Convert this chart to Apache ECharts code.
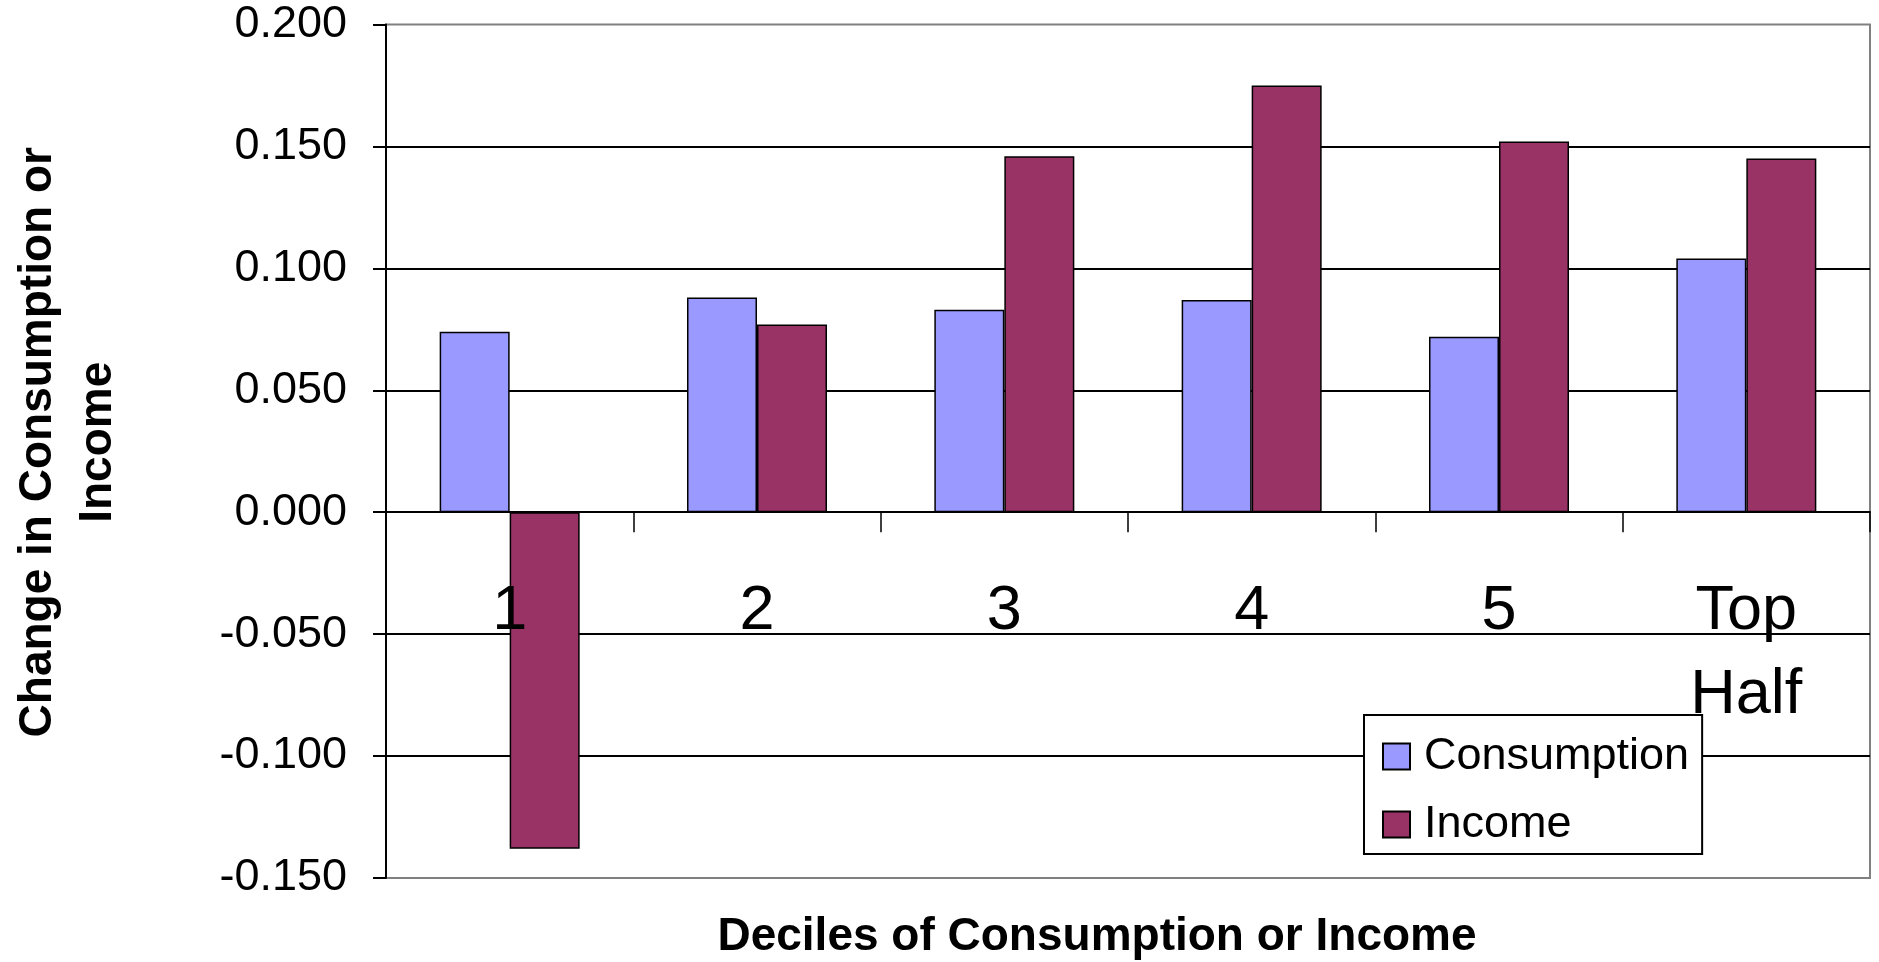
<!DOCTYPE html>
<html>
<head>
<meta charset="utf-8">
<title>Change in Consumption or Income by Decile</title>
<script src="https://cdn.jsdelivr.net/npm/echarts@6/dist/echarts.min.js"></script>
<style>
  html, body { margin: 0; padding: 0; background: #ffffff; }
  #chart { width: 1879px; height: 962px; }
</style>
</head>
<body>
<div id="chart"></div>
<script>
// Deciles and their change in consumption / income
const categories = ['1', '2', '3', '4', '5', 'Top Half'];
const consumption = [0.074, 0.088, 0.083, 0.087, 0.072, 0.104];
const income = [-0.138, 0.077, 0.146, 0.175, 0.152, 0.145];

// Value axis range and step
const yMin = -0.15;
const yMax = 0.2;
const yStep = 0.05;

const FONT = "'Liberation Sans', Arial, sans-serif";

// Plot area geometry
const GRID_TOP = 24.5;
const GRID_BOTTOM = 84;
const CHART_H = 962;
const plotH = CHART_H - GRID_TOP - GRID_BOTTOM;
// Category labels sit a fixed distance under the zero line, while the
// axis labels are anchored at the plot bottom, so pull them back up.
const zeroFromBottom = plotH * (0 - yMin) / (yMax - yMin);
const labelGapBelowZero = 57;

const chart = echarts.init(document.getElementById('chart'), null, { renderer: 'canvas' });

chart.setOption({
  animation: false,
  backgroundColor: '#ffffff',
  textStyle: { fontFamily: FONT, color: '#000000' },
  title: {
    text: 'Deciles of Consumption or Income',
    left: 1097,
    top: 914,
    textAlign: 'center',
    padding: 0,
    textStyle: { fontFamily: FONT, fontSize: 46, fontWeight: 'bold', color: '#000000', lineHeight: 46 }
  },
  grid: {
    left: 386,
    right: 9,
    top: GRID_TOP,
    bottom: GRID_BOTTOM,
    containLabel: false,
    outerBoundsMode: 'none',
    show: true,
    borderColor: '#808080',
    borderWidth: 2,
    backgroundColor: 'transparent'
  },
  legend: {
    orient: 'vertical',
    left: 1364,
    top: 715,
    padding: [19, 13, 7, 18],
    itemWidth: 27,
    itemHeight: 26,
    itemGap: 23,
    icon: 'rect',
    backgroundColor: '#ffffff',
    borderColor: '#000000',
    borderWidth: 2,
    borderRadius: 0,
    textStyle: { fontFamily: FONT, fontSize: 45, lineHeight: 45, color: '#000000', padding: [0, 0, 0, 9] }
  },
  xAxis: {
    type: 'category',
    data: categories,
    boundaryGap: true,
    z: 3,
    axisLine: { show: true, onZero: true, lineStyle: { color: '#000000', width: 2 } },
    axisTick: { show: true, length: 20, interval: 0, lineStyle: { color: '#000000', width: 1.5 } },
    axisLabel: {
      interval: 0,
      margin: labelGapBelowZero - zeroFromBottom,
      fontFamily: FONT,
      fontSize: 63,
      lineHeight: 84,
      color: '#000000',
      formatter: (v) => v.replace(' ', '\n')
    },
    splitLine: { show: false }
  },
  yAxis: {
    type: 'value',
    min: yMin,
    max: yMax,
    interval: yStep,
    name: 'Change in Consumption or\nIncome',
    nameLocation: 'middle',
    nameRotate: 90,
    nameGap: 258,
    nameTextStyle: {
      fontFamily: FONT,
      fontSize: 46,
      fontWeight: 'bold',
      lineHeight: 60,
      color: '#000000',
      align: 'center',
      padding: [0, 0, 0, 18]
    },
    axisLine: { show: true, onZero: false, lineStyle: { color: '#000000', width: 2 } },
    axisTick: { show: true, length: 13, lineStyle: { color: '#000000', width: 2 } },
    axisLabel: {
      margin: 39,
      fontFamily: FONT,
      fontSize: 45,
      color: '#000000',
      formatter: (v) => v.toFixed(3)
    },
    splitLine: {
      show: true,
      showMinLine: false,
      showMaxLine: false,
      lineStyle: { color: '#000000', width: 2 }
    }
  },
  series: [
    {
      name: 'Consumption',
      type: 'bar',
      data: consumption,
      barWidth: 70,
      barGap: '0%',
      itemStyle: { color: '#9999FF', borderColor: '#000000', borderWidth: 1.5 }
    },
    {
      name: 'Income',
      type: 'bar',
      data: income,
      barWidth: 70,
      barGap: '0%',
      itemStyle: { color: '#993366', borderColor: '#000000', borderWidth: 1.5 }
    }
  ]
});
</script>
</body>
</html>
